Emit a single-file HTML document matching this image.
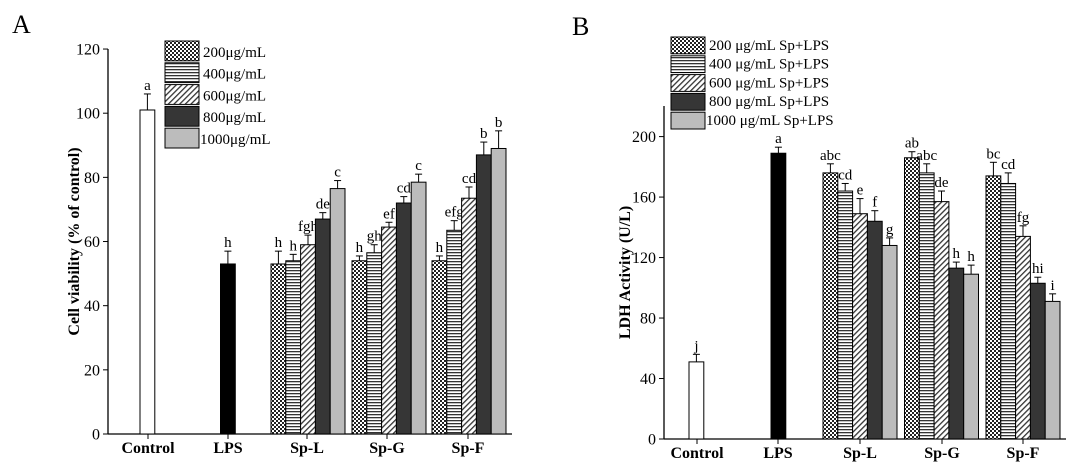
<!DOCTYPE html>
<html><head><meta charset="utf-8"><style>body{margin:0;background:#fff}svg{display:block}text{font-family:"Liberation Serif",serif}</style></head><body>
<svg id="s" width="1080" height="471" viewBox="0 0 1080 471" xmlns="http://www.w3.org/2000/svg">
<defs>
<pattern id="p0" width="4" height="4" patternUnits="userSpaceOnUse"><rect width="4" height="4" fill="#fff"/><rect width="2" height="2" fill="#222"/><rect x="2" y="2" width="2" height="2" fill="#222"/></pattern>
<pattern id="p1" width="4" height="3" patternUnits="userSpaceOnUse"><rect width="4" height="3" fill="#fff"/><rect width="4" height="1.3" fill="#333"/></pattern>
<pattern id="p2" width="4" height="4" patternUnits="userSpaceOnUse" patternTransform="rotate(45)"><rect width="4" height="4" fill="#fff"/><rect width="1.3" height="4" fill="#333"/></pattern>
</defs>
<text x="12" y="33" font-size="26">A</text>
<text x="572" y="35" font-size="26">B</text>
</svg>
<script>
const s=document.getElementById('s');const NS='http://www.w3.org/2000/svg';
function el(t,a,txt){const e=document.createElementNS(NS,t);for(const k in a)e.setAttribute(k,a[k]);if(txt!=null)e.textContent=txt;s.appendChild(e);return e;}
const fills=['url(#p0)','url(#p1)','url(#p2)','#363636','#bcbcbc'];
function panel(o){
 const Y=v=>o.y0-(v)*o.k;
 el('line',{x1:o.ax,y1:o.top,x2:o.ax,y2:o.y0,stroke:'#000','stroke-width':1.3});
 el('line',{x1:o.ax,y1:o.y0,x2:o.xe,y2:o.y0,stroke:'#000','stroke-width':1.3});
 o.ticks.forEach(v=>{el('line',{x1:o.ax-5,y1:Y(v),x2:o.ax,y2:Y(v),stroke:'#000'});el('text',{x:o.ax-8,y:Y(v)+5.5,'font-size':16,'text-anchor':'end'},v);});
 o.cats.forEach((c,i)=>{el('line',{x1:o.cx[i],y1:o.y0,x2:o.cx[i],y2:o.y0+5,stroke:'#000'});el('text',{x:o.cx[i],y:o.y0+19,'font-size':16,'font-weight':'bold','text-anchor':'middle'},c);});
 el('text',{transform:`translate(${o.lx},${(o.y0+o.top)/2}) rotate(-90)`,'font-size':16,'font-weight':'bold','text-anchor':'middle'},o.ylab);
 const bw=14.8;
 o.bars.forEach(b=>{
  el('line',{x1:b[0]+bw/2,y1:Y(b[1]),x2:b[0]+bw/2,y2:Y(b[2]),stroke:'#000'});
  el('line',{x1:b[0]+bw/2-3.5,y1:Y(b[2]),x2:b[0]+bw/2+3.5,y2:Y(b[2]),stroke:'#000'});
  el('rect',{x:b[0],y:Y(b[1]),width:bw,height:b[1]*o.k,fill:b[3],stroke:'#000','stroke-width':1});
  el('text',{x:b[0]+bw/2,y:Y(b[2])-4,'font-size':15,'text-anchor':'middle'},b[4]);
 });
 o.leg.forEach((t,i)=>{const y=o.lt+i*o.lr;el('rect',{x:o.lbx,y:y,width:34,height:o.lr-2,fill:fills[i],stroke:'#000'});el('text',{x:o.lbx+(i==4?35:38),y:y+o.lr-6,'font-size':15},t);});
}
function grp(x,vals,errs,lets){return vals.map((v,i)=>[x+i*14.8,v,errs[i],fills[i],lets[i]]);}
panel({ax:108,y0:434,top:49,k:3.208,xe:512,ticks:[0,20,40,60,80,100,120],cats:['Control','LPS','Sp-L','Sp-G','Sp-F'],cx:[148,228,307,387,468],lx:79,ylab:'Cell viability (% of control)',
 bars:[[140,101,106,'#fff','a'],[220.5,53,57,'#000','h']].concat(
  grp(271,[53,54,59,67,76.5],[57,56,62,69,79],['h','h','fgh','de','c']),
  grp(352,[54,56.5,64.5,72,78.5],[55.5,59,66,74,81],['h','gh','ef','cd','c']),
  grp(432,[54,63.5,73.5,87,89],[55.5,66.5,77,91,94.5],['h','efg','cd','b','b'])),
 leg:['200μg/mL','400μg/mL','600μg/mL','800μg/mL','1000μg/mL'],lbx:165,lt:41,lr:21.8});
panel({ax:664,y0:439,top:106,k:1.512,xe:1066,ticks:[0,40,80,120,160,200],cats:['Control','LPS','Sp-L','Sp-G','Sp-F'],cx:[697,778,860,942,1023],lx:630,ylab:'LDH Activity  (U/L)',
 bars:[[689,51,56,'#fff','j'],[771,189,193,'#000','a']].concat(
  grp(823,[176,164,149,144,128],[182,169,159,151,133],['abc','cd','e','f','g']),
  grp(904.5,[186,176,157,113,109],[190,182,164,117,115],['ab','abc','de','h','h']),
  grp(986,[174,169,134,103,91],[183,176,141,107,96],['bc','cd','fg','hi','i'])),
 leg:['200 μg/mL Sp+LPS','400 μg/mL Sp+LPS','600 μg/mL Sp+LPS','800 μg/mL Sp+LPS','1000 μg/mL Sp+LPS'],lbx:671,lt:37,lr:18.8});
</script>
</body></html>
